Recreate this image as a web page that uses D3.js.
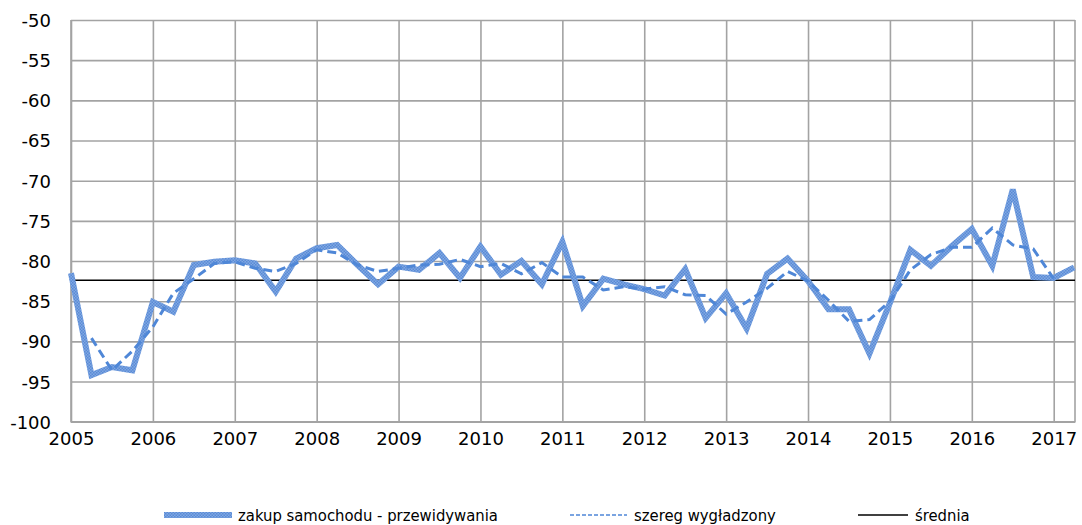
<!DOCTYPE html>
<html>
<head>
<meta charset="utf-8">
<script src="https://cdn.jsdelivr.net/npm/d3@7/dist/d3.min.js"></script>
<style>
  html, body { margin: 0; padding: 0; background: #fff; }
  svg { display: block; }
  .tick text { font-family: "DejaVu Sans", Verdana, sans-serif; }
</style>
</head>
<body>
<svg id="chart" width="1082" height="525"></svg>
<script>
// Quarterly series, first quarter of 2005 onward
const startYear = 2005;
const yearTicks = [2005, 2006, 2007, 2008, 2009, 2010, 2011, 2012, 2013, 2014, 2015, 2016, 2017];
const valueTicks = [-100, -95, -90, -85, -80, -75, -70, -65, -60, -55, -50];

// zakup samochodu - przewidywania (2005 Q1 .. 2017 Q2)
const predicted = [
  -81.5, -94.2, -93.2, -93.6,
  -85.1, -86.3, -80.5, -80.1,
  -79.9, -80.3, -83.8, -79.7,
  -78.4, -78.0, -80.5, -82.9,
  -80.7, -81.1, -79.0, -82.1,
  -78.2, -81.7, -80.0, -82.9,
  -77.6, -85.6, -82.2, -82.9,
  -83.5, -84.3, -81.0, -87.1,
  -84.0, -88.4, -81.6, -79.7,
  -82.5, -86.0, -86.0, -91.5,
  -85.2, -78.6, -80.6, -78.2,
  -76.0, -80.6, -71.1, -82.0,
  -82.1, -80.8
];

// szereg wygładzony (2005 Q2 .. 2017 Q1)
const smoothedStart = 1;
const smoothed = [
  -89.6, -93.6, -91.2,
  -88.2, -84.0, -82.2, -80.3,
  -80.1, -80.9, -81.3, -80.3,
  -78.6, -79.0, -80.5, -81.3,
  -80.9, -80.5, -80.4, -79.8,
  -80.7, -80.3, -81.6, -80.2,
  -82.0, -82.0, -83.6, -83.2,
  -83.5, -83.2, -84.2, -84.3,
  -86.6, -85.1, -83.4, -81.3,
  -82.5, -84.9, -87.5, -87.3,
  -85.0, -81.1, -79.2, -78.3,
  -78.3, -75.9, -78.0, -78.5,
  -82.2
];

// średnia
const average = -82.4;

const legendLabels = ["zakup samochodu - przewidywania", "szereg wygładzony", "średnia"];

const svg = d3.select("#chart");
const plotLeft = 71, plotRight = 1075, plotTop = 20, plotBottom = 421.7;

const x = d3.scaleLinear().domain([2005, 2017.26]).range([plotLeft, plotRight]);
const y = d3.scaleLinear().domain([-100, -50]).range([plotBottom, plotTop]);

// textured fill for the main series stroke
const defs = svg.append("defs");
const pat = defs.append("pattern")
  .attr("id", "tex").attr("patternUnits", "userSpaceOnUse")
  .attr("width", 3).attr("height", 3);
pat.append("rect").attr("width", 3).attr("height", 3).attr("fill", "#80a9e2");
pat.append("rect").attr("width", 1.5).attr("height", 1.5).attr("fill", "#5a8ad6");
pat.append("rect").attr("x", 1.5).attr("y", 1.5).attr("width", 1.5).attr("height", 1.5).attr("fill", "#5a8ad6");

const gridColor = "#a3a3a3";

// horizontal grid
svg.append("g")
  .attr("transform", `translate(${plotLeft},0)`)
  .call(d3.axisLeft(y).tickValues(valueTicks).tickSize(-(plotRight - plotLeft)).tickFormat(""))
  .call(g => g.select(".domain").remove())
  .call(g => g.selectAll("line").attr("stroke", gridColor).attr("stroke-width", 1.6));

// vertical grid
svg.append("g")
  .attr("transform", `translate(0,${plotBottom})`)
  .call(d3.axisBottom(x).tickValues(yearTicks).tickSize(-(plotBottom - plotTop)).tickFormat(""))
  .call(g => g.select(".domain").remove())
  .call(g => g.selectAll("line").attr("stroke", gridColor).attr("stroke-width", 1.6));

// plot frame (left, right, bottom)
svg.append("path")
  .attr("d", `M${plotLeft},${plotTop}V${plotBottom}H${plotRight}V${plotTop}`)
  .attr("fill", "none").attr("stroke", gridColor).attr("stroke-width", 1.6);

// y labels, plain hyphen as the minus sign
svg.append("g")
  .attr("transform", `translate(${plotLeft},0)`)
  .call(d3.axisLeft(y).tickValues(valueTicks).tickSize(0).tickPadding(20).tickFormat(d => String(d)))
  .call(g => g.select(".domain").remove())
  .call(g => g.selectAll("text").attr("font-size", 18).attr("fill", "#000").attr("dy", "0.36em"));

// x labels
svg.append("g")
  .attr("transform", `translate(0,${plotBottom})`)
  .call(d3.axisBottom(x).tickValues(yearTicks).tickSize(0).tickPadding(11).tickFormat(d => String(d)))
  .call(g => g.select(".domain").remove())
  .call(g => g.selectAll("text").attr("font-size", 18).attr("fill", "#000"));

const qx = i => x(startYear + i / 4);

// average line
svg.append("line")
  .attr("x1", plotLeft).attr("x2", plotRight)
  .attr("y1", y(average)).attr("y2", y(average))
  .attr("stroke", "#000").attr("stroke-width", 1.6);

// main series
svg.append("path")
  .datum(predicted)
  .attr("fill", "none")
  .attr("stroke", "url(#tex)")
  .attr("stroke-width", 6)
  .attr("stroke-linejoin", "miter")
  .attr("d", d3.line().x((d, i) => qx(i)).y(d => y(d)));

// smoothed series
svg.append("path")
  .datum(smoothed)
  .attr("fill", "none")
  .attr("stroke", "#4f87d7")
  .attr("stroke-width", 3)
  .attr("stroke-dasharray", "9,5")
  .attr("d", d3.line().x((d, i) => qx(i + smoothedStart)).y(d => y(d)));

// legend
const ly = 515;
const lg = svg.append("g").attr("font-family", "'DejaVu Sans Condensed', 'DejaVu Sans', sans-serif")
  .attr("font-size", 16.5).attr("font-stretch", "condensed");

lg.append("line").attr("x1", 164).attr("x2", 232).attr("y1", ly).attr("y2", ly)
  .attr("stroke", "url(#tex)").attr("stroke-width", 6);
lg.append("text").attr("x", 238).attr("y", ly).attr("dy", "0.35em").text(legendLabels[0]);

lg.append("line").attr("x1", 570).attr("x2", 627).attr("y1", ly).attr("y2", ly)
  .attr("stroke", "#4f87d7").attr("stroke-width", 1.5).attr("stroke-dasharray", "4,2");
lg.append("text").attr("x", 634).attr("y", ly).attr("dy", "0.35em").text(legendLabels[1]);

lg.append("line").attr("x1", 858).attr("x2", 908).attr("y1", ly).attr("y2", ly)
  .attr("stroke", "#000").attr("stroke-width", 1.5);
lg.append("text").attr("x", 915).attr("y", ly).attr("dy", "0.35em").text(legendLabels[2]);
</script>
</body>
</html>
